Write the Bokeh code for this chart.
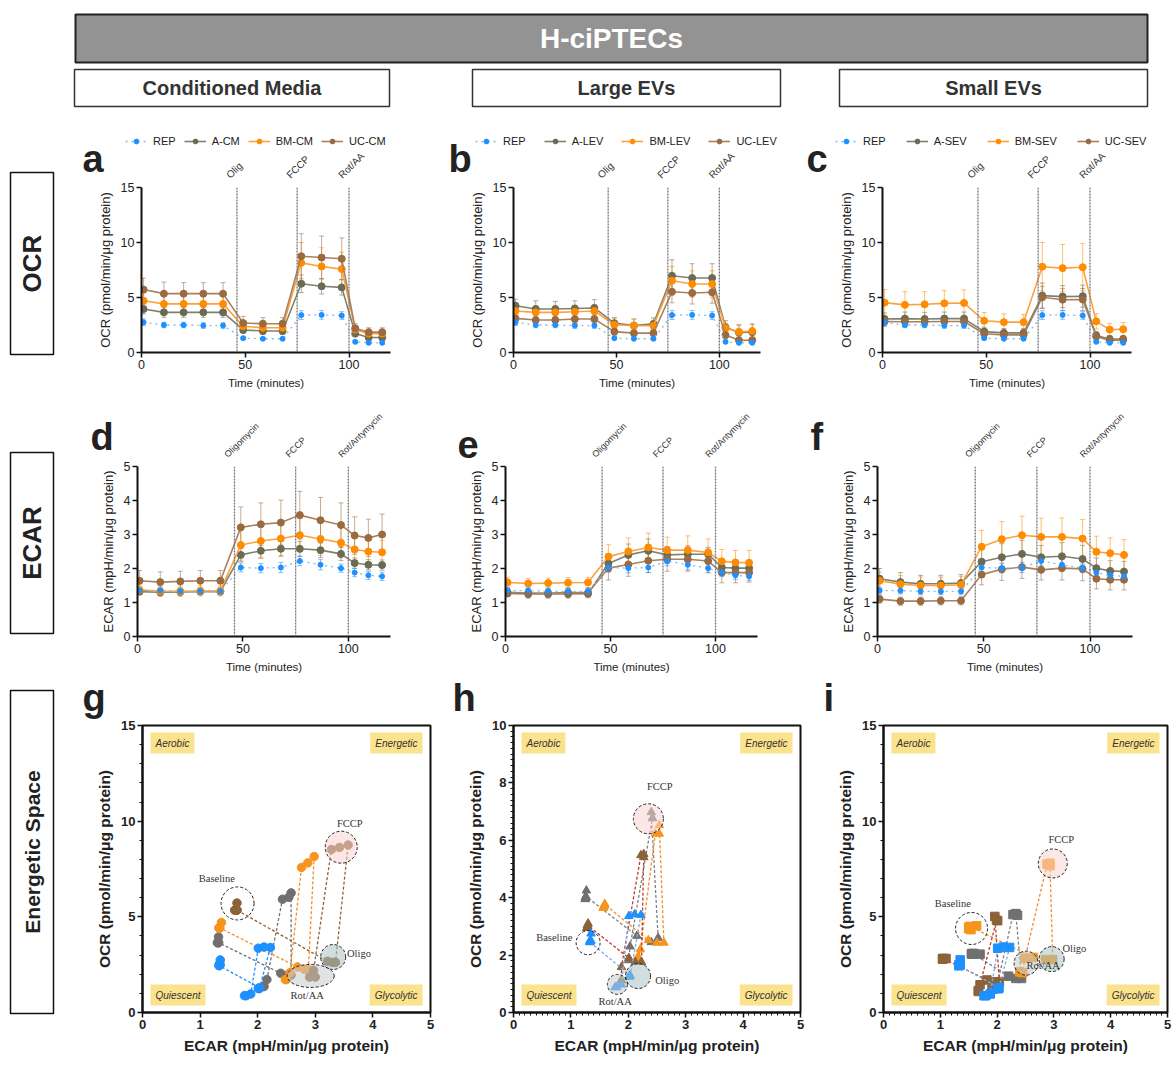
import numpy as np
from bokeh.plotting import figure
from bokeh.models import (Range1d, Span, Label, Legend, LegendItem, Whisker,
                          TeeHead, ColumnDataSource, FixedTicker)
from bokeh.layouts import row, column
from bokeh.core.properties import value
from bokeh.embed import file_html
from bokeh.resources import INLINE

FONT = "Liberation Sans"
SERIF = "Liberation Serif"

# ---------------- data ----------------
TIME = [1, 10.8, 20.3, 29.8, 39.3, 49, 58.5, 68, 77, 86.8, 96.5, 103, 109.5, 116]
INJECTIONS = [46, 75, 100]
OCR_INJ_LABELS = ["Olig", "FCCP", "Rot/AA"]
ECAR_INJ_LABELS = ["Oligomycin", "FCCP", "Rot/Antymycin"]
COLUMN_TITLES = ["Conditioned Media", "Large EVs", "Small EVs"]
ROW_TITLES = ["OCR", "ECAR", "Energetic Space"]
QUADRANTS = ["Aerobic", "Energetic", "Quiescent", "Glycolytic"]
SERIES = ["REP", "A", "BM", "UC"]
NAMES = {"CM": ["REP", "A-CM", "BM-CM", "UC-CM"],
         "LEV": ["REP", "A-LEV", "BM-LEV", "UC-LEV"],
         "SEV": ["REP", "A-SEV", "BM-SEV", "UC-SEV"]}

# OCR (pmol/min/ug protein)
OCR_REP = [2.75, 2.5, 2.5, 2.45, 2.45, 1.3, 1.25, 1.25, 3.4, 3.42, 3.36, 0.97, 0.88, 0.88]
OCR_REP_SD = [0.3, 0.25, 0.25, 0.25, 0.25, 0.12, 0.1, 0.1, 0.4, 0.4, 0.35, 0.12, 0.1, 0.1]
OCR_A_CM = [3.95, 3.65, 3.65, 3.65, 3.65, 2.05, 1.95, 1.95, 6.25, 6.02, 5.92, 1.72, 1.36, 1.36]
OCR_A_CM_SD = [0.45, 0.45, 0.45, 0.45, 0.45, 0.3, 0.3, 0.3, 0.8, 0.7, 0.7, 0.3, 0.25, 0.25]
OCR_BM_CM = [4.7, 4.42, 4.42, 4.42, 4.42, 2.38, 2.25, 2.25, 8.15, 7.82, 7.58, 2.08, 1.72, 1.72]
OCR_BM_CM_SD = [0.7, 0.65, 0.65, 0.65, 0.65, 0.4, 0.35, 0.35, 1.85, 1.7, 1.55, 0.35, 0.3, 0.3]
OCR_UC_CM = [5.72, 5.35, 5.35, 5.35, 5.35, 2.68, 2.62, 2.62, 8.75, 8.63, 8.52, 2.2, 1.85, 1.85]
OCR_UC_CM_SD = [1.05, 1.05, 1.0, 1.0, 1.0, 0.6, 0.55, 0.55, 2.05, 1.95, 1.9, 0.45, 0.4, 0.4]
OCR_A_LEV = [4.25, 3.95, 3.95, 4.0, 4.05, 2.67, 2.45, 2.6, 6.98, 6.77, 6.77, 2.3, 1.82, 1.85]
OCR_A_LEV_SD = [0.6, 0.75, 0.7, 0.7, 0.75, 0.5, 0.6, 0.55, 1.45, 1.3, 1.3, 0.6, 0.7, 0.75]
OCR_BM_LEV = [3.77, 3.65, 3.65, 3.7, 3.77, 2.52, 2.43, 2.43, 6.53, 6.23, 6.23, 2.2, 1.88, 1.95]
OCR_BM_LEV_SD = [0.7, 0.6, 0.6, 0.6, 0.6, 0.6, 0.6, 0.5, 1.3, 1.2, 1.2, 0.5, 0.6, 0.6]
OCR_UC_LEV = [3.1, 2.95, 2.95, 3.04, 3.04, 1.9, 1.76, 1.76, 5.52, 5.41, 5.48, 1.58, 1.12, 1.12]
OCR_UC_LEV_SD = [0.4, 0.4, 0.4, 0.4, 0.4, 0.35, 0.3, 0.3, 1.0, 1.0, 1.0, 0.35, 0.3, 0.3]
OCR_A_SEV = [3.05, 3.08, 3.05, 3.08, 3.08, 1.9, 1.78, 1.78, 5.17, 5.08, 5.12, 1.55, 1.22, 1.22]
OCR_A_SEV_SD = [0.55, 0.6, 0.6, 0.6, 0.6, 0.4, 0.4, 0.4, 1.15, 1.0, 1.0, 0.35, 0.3, 0.3]
OCR_BM_SEV = [4.53, 4.33, 4.38, 4.47, 4.5, 2.88, 2.76, 2.76, 7.8, 7.67, 7.75, 2.83, 2.08, 2.12]
OCR_BM_SEV_SD = [1.2, 1.2, 1.15, 1.15, 1.2, 0.75, 0.75, 0.7, 2.2, 2.15, 2.15, 0.7, 0.55, 0.6]
OCR_UC_SEV = [2.82, 2.8, 2.8, 2.82, 2.82, 1.7, 1.6, 1.6, 5.02, 4.8, 4.82, 1.45, 1.1, 1.15]
OCR_UC_SEV_SD = [0.45, 0.45, 0.45, 0.45, 0.45, 0.35, 0.35, 0.35, 1.0, 1.0, 1.0, 0.35, 0.3, 0.3]

# ECAR (mpH/min/ug protein)
ECAR_REP = [1.35, 1.35, 1.33, 1.33, 1.33, 2.03, 2.01, 2.03, 2.22, 2.11, 2.01, 1.88, 1.8, 1.77]
ECAR_REP_SD = [0.1, 0.1, 0.1, 0.1, 0.1, 0.13, 0.14, 0.15, 0.14, 0.15, 0.12, 0.12, 0.12, 0.12]
ECAR_A_CM = [1.32, 1.3, 1.31, 1.32, 1.32, 2.4, 2.52, 2.58, 2.58, 2.54, 2.43, 2.16, 2.11, 2.1]
ECAR_A_CM_SD = [0.08, 0.08, 0.08, 0.08, 0.08, 0.2, 0.22, 0.22, 0.22, 0.22, 0.2, 0.15, 0.15, 0.15]
ECAR_BM_CM = [1.37, 1.33, 1.33, 1.34, 1.34, 2.69, 2.81, 2.88, 2.98, 2.87, 2.76, 2.56, 2.5, 2.48]
ECAR_BM_CM_SD = [0.15, 0.15, 0.15, 0.15, 0.15, 0.45, 0.48, 0.5, 0.5, 0.48, 0.45, 0.35, 0.35, 0.35]
ECAR_UC_CM = [1.64, 1.6, 1.62, 1.64, 1.64, 3.21, 3.3, 3.35, 3.57, 3.42, 3.28, 2.97, 2.9, 3.0]
ECAR_UC_CM_SD = [0.3, 0.3, 0.3, 0.3, 0.3, 0.6, 0.63, 0.66, 0.7, 0.67, 0.65, 0.55, 0.55, 0.6]
ECAR_A_LEV = [1.27, 1.25, 1.25, 1.25, 1.26, 2.15, 2.4, 2.52, 2.4, 2.42, 2.42, 2.03, 2.01, 2.01]
ECAR_A_LEV_SD = [0.1, 0.12, 0.12, 0.12, 0.12, 0.25, 0.32, 0.35, 0.25, 0.25, 0.2, 0.2, 0.22, 0.22]
ECAR_BM_LEV = [1.59, 1.56, 1.57, 1.58, 1.59, 2.35, 2.5, 2.62, 2.54, 2.54, 2.47, 2.21, 2.18, 2.17]
ECAR_BM_LEV_SD = [0.15, 0.15, 0.15, 0.15, 0.15, 0.35, 0.4, 0.42, 0.38, 0.42, 0.4, 0.35, 0.35, 0.36]
ECAR_UC_LEV = [1.3, 1.28, 1.28, 1.29, 1.29, 2.01, 2.12, 2.23, 2.27, 2.27, 2.22, 1.88, 1.88, 1.88]
ECAR_UC_LEV_SD = [0.1, 0.12, 0.12, 0.12, 0.12, 0.35, 0.35, 0.35, 0.35, 0.35, 0.35, 0.3, 0.3, 0.28]
ECAR_A_SEV = [1.7, 1.6, 1.55, 1.55, 1.57, 2.2, 2.33, 2.43, 2.33, 2.36, 2.28, 2.01, 1.93, 1.91]
ECAR_A_SEV_SD = [0.3, 0.28, 0.25, 0.25, 0.25, 0.35, 0.4, 0.4, 0.35, 0.4, 0.4, 0.3, 0.3, 0.3]
ECAR_BM_SEV = [1.64, 1.54, 1.5, 1.5, 1.52, 2.64, 2.86, 2.98, 2.93, 2.93, 2.88, 2.49, 2.45, 2.4]
ECAR_BM_SEV_SD = [0.25, 0.25, 0.25, 0.25, 0.25, 0.48, 0.52, 0.56, 0.55, 0.56, 0.56, 0.46, 0.45, 0.45]
ECAR_UC_SEV = [1.1, 1.04, 1.04, 1.05, 1.05, 1.82, 1.98, 2.04, 1.96, 2.01, 1.99, 1.7, 1.67, 1.67]
ECAR_UC_SEV_SD = [0.12, 0.12, 0.12, 0.12, 0.12, 0.3, 0.33, 0.33, 0.3, 0.35, 0.35, 0.3, 0.3, 0.3]

OCR = {"CM": {"REP": OCR_REP, "A": OCR_A_CM, "BM": OCR_BM_CM, "UC": OCR_UC_CM},
       "LEV": {"REP": OCR_REP, "A": OCR_A_LEV, "BM": OCR_BM_LEV, "UC": OCR_UC_LEV},
       "SEV": {"REP": OCR_REP, "A": OCR_A_SEV, "BM": OCR_BM_SEV, "UC": OCR_UC_SEV}}
OCR_SD = {"CM": {"REP": OCR_REP_SD, "A": OCR_A_CM_SD, "BM": OCR_BM_CM_SD, "UC": OCR_UC_CM_SD},
          "LEV": {"REP": OCR_REP_SD, "A": OCR_A_LEV_SD, "BM": OCR_BM_LEV_SD, "UC": OCR_UC_LEV_SD},
          "SEV": {"REP": OCR_REP_SD, "A": OCR_A_SEV_SD, "BM": OCR_BM_SEV_SD, "UC": OCR_UC_SEV_SD}}
ECAR = {"CM": {"REP": ECAR_REP, "A": ECAR_A_CM, "BM": ECAR_BM_CM, "UC": ECAR_UC_CM},
        "LEV": {"REP": ECAR_REP, "A": ECAR_A_LEV, "BM": ECAR_BM_LEV, "UC": ECAR_UC_LEV},
        "SEV": {"REP": ECAR_REP, "A": ECAR_A_SEV, "BM": ECAR_BM_SEV, "UC": ECAR_UC_SEV}}
ECAR_SD = {"CM": {"REP": ECAR_REP_SD, "A": ECAR_A_CM_SD, "BM": ECAR_BM_CM_SD, "UC": ECAR_UC_CM_SD},
           "LEV": {"REP": ECAR_REP_SD, "A": ECAR_A_LEV_SD, "BM": ECAR_BM_LEV_SD, "UC": ECAR_UC_LEV_SD},
           "SEV": {"REP": ECAR_REP_SD, "A": ECAR_A_SEV_SD, "BM": ECAR_BM_SEV_SD, "UC": ECAR_UC_SEV_SD}}

# callouts on the energetic maps: (label, x, y, width px, height px, fill, label x, label y, align)
CALLOUTS = {
    "CM": [("Baseline", 1.65, 5.7, 33, 33, None, 1.29, 7.02, "center"),
           ("FCCP", 3.45, 8.64, 32, 32, "#F7D3D0", 3.6, 9.89, "center"),
           ("Oligo", 3.31, 2.9, 25, 25, "#A9C3C4", 3.55, 3.06, "left"),
           ("Rot/AA", 2.92, 1.91, 47, 23, "#C6CCCC", 2.86, 0.87, "center")],
    "LEV": [("Baseline", 1.30, 2.43, 24, 24, None, 0.71, 2.61, "center"),
            ("FCCP", 2.35, 6.75, 30, 30, "#F7D3D0", 2.55, 7.86, "center"),
            ("Oligo", 2.17, 1.27, 25, 25, "#A9C3C4", 2.47, 1.12, "left"),
            ("Rot/AA", 1.81, 0.98, 20, 20, "#C6CCCC", 1.77, 0.38, "center")],
    "SEV": [("Baseline", 1.55, 4.39, 32, 32, None, 1.22, 5.68, "center"),
            ("FCCP", 2.98, 7.79, 29, 29, "#F7D3D0", 3.13, 9.05, "center"),
            ("Oligo", 2.96, 2.79, 25, 25, "#A9C3C4", 3.15, 3.34, "left"),
            ("Rot/AA", 2.51, 2.58, 24, 24, "#C6CCCC", 2.81, 2.48, "center")],
}

# ---------------- styles ----------------
MARK_COL = {"REP": "#1E90FF", "A": "#6B6B55", "BM": "#FF8C00", "UC": "#9A6A40"}
LINE_COL = {"REP": "#7DBBF5", "A": "#80806C", "BM": "#FFA040", "UC": "#A98060"}
EN_MARK_COL = {"REP": "#1E90FF", "A": "#707070", "BM": "#F7941D", "UC": "#8C6239"}
EN_LINE_G = {"REP": "#1E90FF", "A": "#707070", "BM": "#F28C28", "UC": "#8C6239"}
EN_LINE_HI = {"REP": "#7FAEDC", "A": "#808080", "BM": "#F28C28", "UC": "#C0392B"}


def new_fig(W, H, bl, br, bt, bb, xr, yr, axes=True):
    kw = {}
    if not axes:
        kw = dict(x_axis_location=None, y_axis_location=None)
    p = figure(width=W, height=H, x_range=Range1d(*xr), y_range=Range1d(*yr),
               min_border_left=bl, min_border_right=br, min_border_top=bt,
               min_border_bottom=bb, output_backend="svg", toolbar_location=None,
               frame_align=False, **kw)
    p.xgrid.visible = False
    p.ygrid.visible = False
    p.background_fill_color = "white"
    p.border_fill_color = "white"
    p.outline_line_color = None
    return p


def style_axes(p, bold, tick_px, lab_px_x, lab_px_y):
    for ax in p.axis:
        ax.axis_line_width = 2
        ax.axis_line_color = "#111111"
        ax.major_tick_line_width = 1.5
        ax.major_tick_line_color = "#111111"
        ax.major_tick_out = 5
        ax.major_tick_in = 0
        ax.minor_tick_out = 3
        ax.minor_tick_in = 0
        ax.minor_tick_line_color = "#111111"
        ax.minor_tick_line_width = 1
        ax.major_label_text_font = FONT
        ax.major_label_text_font_size = tick_px
        ax.major_label_text_color = "#222222"
        ax.major_label_text_font_style = "bold" if bold else "normal"
        ax.axis_label_text_font = FONT
        ax.axis_label_text_font_style = "bold" if bold else "normal"
        ax.axis_label_text_color = "#222222"
        ax.major_label_standoff = 2
        ax.axis_label_standoff = 5
    p.xaxis.axis_label_text_font_size = lab_px_x
    p.yaxis.axis_label_text_font_size = lab_px_y


def strip_fig(W, Hs, bl, br, xr, fw, letter, let_px, let_base):
    """Band above a panel: same x scale as the panel, y in pixels."""
    sx = (xr[1] - xr[0]) / fw
    s = new_fig(W, Hs, 0, 0, 0, 0, (xr[0] - bl * sx, xr[1] + br * sx), (0, Hs), axes=False)
    # 38px letter: descent of the font is about 8px below the baseline
    s.text(x=[xr[0] + let_px * sx], y=[let_base - 7], text=[letter], text_align="left",
           text_baseline="bottom", text_color="#222222", text_font=value(FONT),
           text_font_style="bold", text_font_size="38px")
    return s, sx


def ts_panel(kind, grp, W, Hs, Hp, bl, br, bt, bb, letter, let_px, let_base, leg_x, leg_sp):
    xr = (0, 120)
    yr = (0, 15) if kind == "OCR" else (0, 5)
    fw, fh = W - bl - br, Hp - bt - bb
    strip, sx = strip_fig(W, Hs, bl, br, xr, fw, letter, let_px, let_base)

    p = new_fig(W, Hp, bl, br, bt, bb, xr, yr)
    style_axes(p, False, "12.5px", "11.5px", "13px")
    for ax in p.axis:
        ax.minor_tick_line_color = None
    p.xaxis.ticker = FixedTicker(ticks=[0, 50, 100])
    p.yaxis.ticker = FixedTicker(ticks=[0, 5, 10, 15] if kind == "OCR" else [0, 1, 2, 3, 4, 5])
    p.xaxis.axis_label = "Time (minutes)"
    p.yaxis.axis_label = ("OCR (pmol/min/μg protein)" if kind == "OCR"
                          else "ECAR (mpH/min/μg protein)")
    means = OCR[grp] if kind == "OCR" else ECAR[grp]
    sds = OCR_SD[grp] if kind == "OCR" else ECAR_SD[grp]

    # injection markers
    labels = OCR_INJ_LABELS if kind == "OCR" else ECAR_INJ_LABELS
    fs = "10px" if kind == "OCR" else "9px"
    for t in INJECTIONS:
        p.add_layout(Span(location=t, dimension="height", line_color="#777777",
                          line_width=1.3, line_dash="2 1"))
    strip.text(x=[t - 5 * sx for t in INJECTIONS], y=[1] * 3, text=labels, angle=np.pi / 4,
               text_align="left", text_baseline="bottom", text_color="#333333",
               text_font=value(FONT), text_font_size=fs)

    for key in ["A", "BM", "UC", "REP"]:
        ys, sd = means[key], sds[key]
        src = ColumnDataSource(dict(x=TIME, y=ys,
                                    lo=[a - b for a, b in zip(ys, sd)],
                                    hi=[a + b for a, b in zip(ys, sd)]))
        col = MARK_COL[key]
        p.add_layout(Whisker(source=src, base="x", upper="hi", lower="lo",
                             line_color=col, line_alpha=0.55, line_width=1,
                             upper_head=TeeHead(size=5, line_color=col, line_alpha=0.55, line_width=1),
                             lower_head=TeeHead(size=5, line_color=col, line_alpha=0.55, line_width=1)))
        if key == "REP":
            p.line("x", "y", source=src, line_color=LINE_COL[key], line_width=1.3,
                   line_dash="dotted")
            p.scatter("x", "y", source=src, marker="circle", size=5,
                      fill_color=col, line_color=col)
        else:
            p.line("x", "y", source=src, line_color=LINE_COL[key], line_width=1.6)
            p.scatter("x", "y", source=src, marker="circle", size=7,
                      fill_color=col, line_color=col)

    if leg_x is not None:
        # legend proxies in the band above the panel: same series, hidden renderers
        items = []
        for i, key in enumerate(SERIES):
            col = MARK_COL[key]
            src = ColumnDataSource(dict(x=TIME, y=means[key]))
            if key == "REP":
                l = strip.line("x", "y", source=src, line_color=LINE_COL[key], line_width=1.3,
                               line_dash="dotted", visible=False)
                s = strip.scatter("x", "y", source=src, marker="circle", size=5,
                                  fill_color=col, line_color=col, visible=False)
            else:
                l = strip.line("x", "y", source=src, line_color=LINE_COL[key], line_width=1.6,
                               visible=False)
                s = strip.scatter("x", "y", source=src, marker="circle", size=7,
                                  fill_color=col, line_color=col, visible=False)
            items.append(LegendItem(label=NAMES[grp][i], renderers=[l, s]))
        leg = Legend(items=items, orientation="horizontal", location=(bl + leg_x, Hs - 31),
                     glyph_width=22, glyph_height=12, label_height=12, label_standoff=6,
                     spacing=leg_sp, padding=0, margin=0, label_text_font=FONT,
                     label_text_font_size="11px", label_text_color="#222222",
                     border_line_color=None, background_fill_alpha=0,
                     inactive_fill_alpha=0)
        strip.add_layout(leg)
    return column(strip, p)


def en_panel(grp, W, Hs, Hp, bl, br, bt, bb, ymax, yticks, yminor, xminor, marker, line_cols,
             letter, let_px, let_base):
    xr, yr = (0, 5), (0, ymax)
    fw, fh = W - bl - br, Hp - bt - bb
    sx, sy = (xr[1] - xr[0]) / fw, (yr[1] - yr[0]) / fh
    strip, _ = strip_fig(W, Hs, bl, br, xr, fw, letter, let_px, let_base)
    p = new_fig(W, Hp, bl, br, bt, bb, xr, yr)
    p.outline_line_color = "#111111"
    p.outline_line_width = 2
    style_axes(p, True, "13px", "15.5px", "15.5px")
    p.xaxis.ticker = FixedTicker(ticks=[0, 1, 2, 3, 4, 5], minor_ticks=xminor)
    p.yaxis.ticker = FixedTicker(ticks=yticks, minor_ticks=yminor)
    p.xaxis.axis_label = "ECAR (mpH/min/μg protein)"
    p.yaxis.axis_label = "OCR (pmol/min/μg protein)"

    for txt, al, base in zip(QUADRANTS, ["left", "right", "left", "right"],
                             ["top", "top", "bottom", "bottom"]):
        x = xr[0] + 8 * sx if al == "left" else xr[1] - 8 * sx
        y = yr[1] - 7 * sy if base == "top" else yr[0] + 7 * sy
        p.add_layout(Label(x=x, y=y, text=txt, text_align=al, text_baseline=base,
                           text_font=FONT, text_font_style="italic", text_font_size="10px",
                           text_color="#333333", background_fill_color="#FBE28C",
                           padding=5))

    for key in ["A", "BM", "UC", "REP"]:
        xs, ys = ECAR[grp][key], OCR[grp][key]
        p.line(xs, ys, line_color=line_cols[key], line_width=1.3, line_dash="3 2")
        p.scatter(xs, ys, marker=marker, size=8.5, fill_color=EN_MARK_COL[key],
                  line_color=EN_MARK_COL[key])

    for lab, cx, cy, w, h, fill, lx, ly, al in CALLOUTS[grp]:
        p.ellipse(x=[cx], y=[cy], width=w, height=h, width_units="screen",
                  height_units="screen", fill_color=fill, fill_alpha=0.55,
                  line_color="#222222", line_dash="3 2", line_width=1)
        p.add_layout(Label(x=lx, y=ly, text=lab, text_font=SERIF, text_font_size="10.5px",
                           text_color="#333333", text_align=al, text_baseline="middle"))
    return column(strip, p)


TOTAL_W = 1172


def header_fig():
    W, H = TOTAL_W, 116
    p = new_fig(W, H, 0, 0, 0, 0, (0, W), (0, H), axes=False)
    p.quad(left=[75], right=[1147], bottom=[54], top=[102], fill_color="#939393",
           line_color="#222222", line_width=2)
    p.text(x=[611], y=[78], text=["H-ciPTECs"], text_align="center", text_baseline="middle",
           text_color="white", text_font=value(FONT), text_font_style="bold",
           text_font_size="28px")
    lefts, rights = [74, 472, 839], [389, 780, 1147]
    p.quad(left=lefts, right=rights, bottom=[10] * 3, top=[47] * 3, fill_color="white",
           line_color="#333333", line_width=1.5)
    p.text(x=[(a + b) / 2 for a, b in zip(lefts, rights)], y=[28.5] * 3, text=COLUMN_TITLES,
           text_align="center", text_baseline="middle", text_color="#333333",
           text_font=value(FONT), text_font_style="bold", text_font_size="20px")
    return p


def label_fig(H, top_td, bot_td, text, size):
    p = new_fig(62, H, 0, 0, 0, 0, (0, 62), (0, H), axes=False)
    p.quad(left=[10], right=[53], top=[H - top_td], bottom=[H - bot_td], fill_color="white",
           line_color="#111111", line_width=1.5)
    p.text(x=[31.5], y=[H - (top_td + bot_td) / 2], text=[text], angle=np.pi / 2,
           text_align="center", text_baseline="middle", text_color="#222222",
           text_font=value(FONT), text_font_style="bold", text_font_size=size)
    return p


# ---------------- rows ----------------
HS1, HP1 = 65, 213
HS2, HP2 = 66, 216
HS3, HP3 = 43, 345
row1 = row(
    label_fig(HS1 + HP1, 56, 238, ROW_TITLES[0], "26px"),
    ts_panel("OCR", "CM", 378, HS1, HP1, 79, 50, 6, 42, "a", -59, 9, -16, 8),
    ts_panel("OCR", "LEV", 360, HS1, HP1, 73, 40, 6, 42, "b", -65, 9, -38, 18),
    ts_panel("OCR", "SEV", 372, HS1, HP1, 82, 41, 6, 42, "c", -76, 9, -47, 20),
)
row2 = row(
    label_fig(HS2 + HP2, 58, 239, ROW_TITLES[1], "26px"),
    ts_panel("ECAR", "CM", 379, HS2, HP2, 75, 51, 6, 40, "d", -47, 10, None, 0),
    ts_panel("ECAR", "LEV", 364, HS2, HP2, 64, 48, 6, 40, "e", -48, 10, None, 0),
    ts_panel("ECAR", "SEV", 367, HS2, HP2, 72, 40, 6, 40, "f", -67, 10, None, 0),
)
minor_x = [round(v, 2) for v in np.arange(0, 5.001, 0.1)]
minor_y10 = [round(v, 2) for v in np.arange(0, 10.001, 0.2)]
minor_y15 = list(range(0, 16))
row3 = row(
    label_fig(HS3 + HP3, 14, 337, ROW_TITLES[2], "21px"),
    en_panel("CM", 378, HS3, HP3, 80, 10, 6, 52, 15, [0, 5, 10, 15], minor_y15, [], "circle",
             EN_LINE_G, "g", -60, 8),
    en_panel("LEV", 372, HS3, HP3, 73, 12, 6, 52, 10, [0, 2, 4, 6, 8, 10], minor_y10, minor_x,
             "triangle", EN_LINE_HI, "h", -61, 8),
    en_panel("SEV", 360, HS3, HP3, 71, 5, 6, 52, 15, [0, 5, 10, 15], minor_y15, minor_x, "square",
             EN_LINE_HI, "i", -60, 8),
)

layout = column(header_fig(), row1, row2, row3)
open("out.html", "w").write(file_html(layout, INLINE))
